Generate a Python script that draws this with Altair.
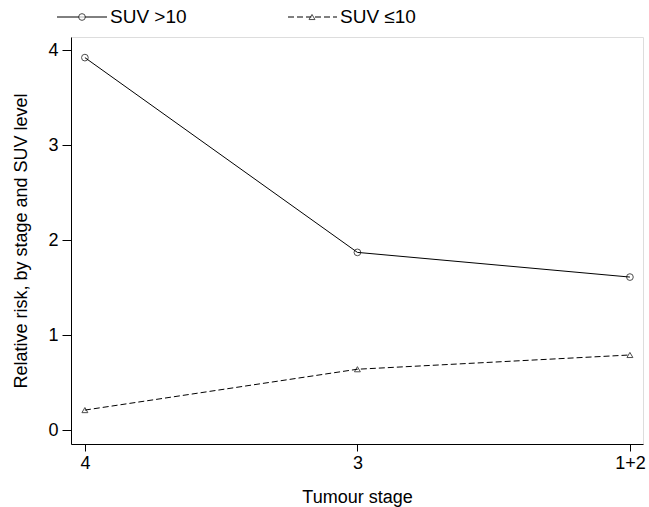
import altair as alt
import pandas as pd

stages = ["4", "3", "1+2"]
suv_high = [3.92, 1.87, 1.61]
suv_low = [0.21, 0.64, 0.79]
series_names = ["SUV >10", "SUV ≤10"]

rows = []
for i, s in enumerate(stages):
    rows.append({"pos": i, "stage": s, "series": series_names[0], "rr": suv_high[i]})
    rows.append({"pos": i, "stage": s, "series": series_names[1], "rr": suv_low[i]})
df = pd.DataFrame(rows)

label_expr = "[" + ",".join("'%s'" % s for s in stages) + "][datum.value]"
FONT = "Liberation Sans"

x = alt.X("pos:Q", scale=alt.Scale(domain=[-0.051, 2.048], nice=False, zero=False),
          axis=alt.Axis(values=[0, 1, 2], labelExpr=label_expr, title="Tumour stage",
                        grid=False, tickSize=7, labelFontSize=18, titleFontSize=18,
                        labelFont=FONT, titleFont=FONT, titleFontWeight="normal",
                        labelColor="black", titleColor="black", domainColor="black",
                        tickColor="black", labelPadding=3, titlePadding=16))
y = alt.Y("rr:Q", scale=alt.Scale(domain=[-0.147, 4.137], nice=False, zero=False),
          axis=alt.Axis(values=[0, 1, 2, 3, 4], title="Relative risk, by stage and SUV level",
                        grid=False, tickSize=9, labelFontSize=18, titleFontSize=18,
                        labelFont=FONT, titleFont=FONT, titleFontWeight="normal",
                        labelColor="black", titleColor="black", domainColor="black",
                        tickColor="black", labelPadding=4, titlePadding=17))

base = alt.Chart(df)
high = base.transform_filter(alt.datum.series == series_names[0])
low = base.transform_filter(alt.datum.series == series_names[1])

line_high = high.mark_line(color="black", strokeWidth=1).encode(x=x, y=y)
pts_high = high.mark_point(shape="circle", filled=False, color="black", size=45,
                           strokeWidth=1).encode(x=x, y=y)
line_low = low.mark_line(color="black", strokeWidth=1, strokeDash=[6, 3]).encode(x=x, y=y)
pts_low = low.mark_point(shape="triangle-up", filled=False, color="black", size=35,
                         strokeWidth=1).encode(x=x, y=y)

leg = pd.DataFrame({"series": series_names})
leg_high = alt.Chart(leg).transform_filter(alt.datum.series == series_names[0])
leg_low = alt.Chart(leg).transform_filter(alt.datum.series == series_names[1])
ly = -20
legend_layers = [
    leg_high.mark_rule(color="black", strokeWidth=1).encode(
        x=alt.value(-14), x2=alt.value(36), y=alt.value(ly)),
    leg_high.mark_point(shape="circle", filled=False, color="black", size=45, fill="white",
                        strokeWidth=1).encode(x=alt.value(11), y=alt.value(ly)),
    leg_high.mark_text(align="left", baseline="middle", fontSize=19, font=FONT,
                       color="black").encode(x=alt.value(39), y=alt.value(ly), text="series:N"),
    leg_low.mark_rule(color="black", strokeWidth=1, strokeDash=[6, 3]).encode(
        x=alt.value(217), x2=alt.value(266), y=alt.value(ly)),
    leg_low.mark_point(shape="triangle-up", filled=False, color="black", size=35,
                       fill="white", strokeWidth=1).encode(x=alt.value(241), y=alt.value(ly)),
    leg_low.mark_text(align="left", baseline="middle", fontSize=19, font=FONT,
                      color="black").encode(x=alt.value(269), y=alt.value(ly), text="series:N"),
]

chart = alt.layer(line_high, line_low, pts_high, pts_low, *legend_layers).properties(
    width=572, height=407,
    autosize=alt.AutoSizeParams(type="none"),
    padding={"left": 71, "top": 37, "right": 6, "bottom": 63},
).configure_view(stroke=None).configure(background="white")

chart.save("out.html", embed_options={"renderer": "svg", "actions": False})
